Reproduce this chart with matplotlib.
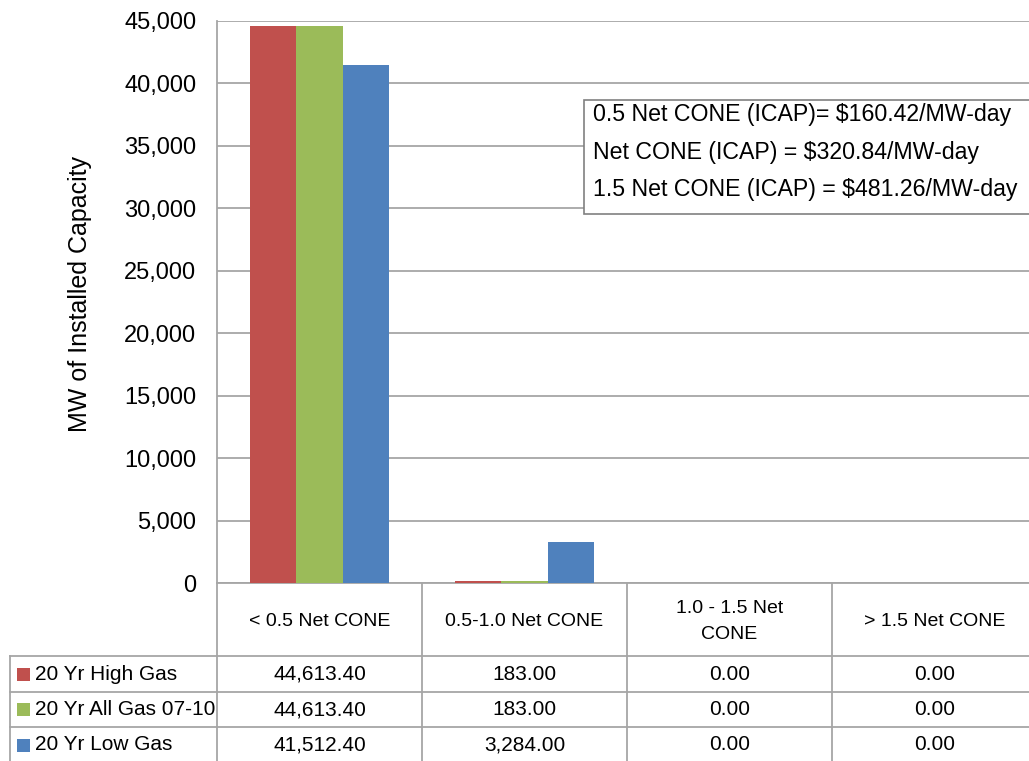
import matplotlib
matplotlib.use("Agg")
import matplotlib.pyplot as plt
from matplotlib.transforms import blended_transform_factory
from matplotlib.ticker import FuncFormatter, MultipleLocator
import numpy as np

plt.rcParams["font.family"] = ["Liberation Sans", "DejaVu Sans"]

categories = ["< 0.5 Net CONE", "0.5-1.0 Net CONE", "1.0 - 1.5 Net\nCONE", "> 1.5 Net CONE"]
series_names = ["20 Yr High Gas", "20 Yr All Gas 07-10", "20 Yr Low Gas"]
high_gas = [44613.40, 183.00, 0.00, 0.00]
all_gas = [44613.40, 183.00, 0.00, 0.00]
low_gas = [41512.40, 3284.00, 0.00, 0.00]
colors = ["#C0504D", "#9BBB59", "#4F81BD"]
note_lines = ["0.5 Net CONE (ICAP)= $160.42/MW-day",
              "Net CONE (ICAP) = $320.84/MW-day",
              "1.5 Net CONE (ICAP) = $481.26/MW-day"]

W, H = 1029, 761
fig = plt.figure(figsize=(W / 100, H / 100), dpi=100)
ax_l, ax_r, ax_t, ax_b = 217, 1037, 21, 583
ax = fig.add_axes([ax_l / W, 1 - ax_b / H, (ax_r - ax_l) / W, (ax_b - ax_t) / H])

grid_c = "#A6A6A6"
fs_tick = 17
fs_tab = 15

x = np.arange(len(categories))
bw = 0.225
for i, (vals, c) in enumerate(zip([high_gas, all_gas, low_gas], colors)):
    ax.bar(x + (i - 1) * bw, vals, width=bw, color=c, zorder=3)

ax.set_xlim(-0.5, len(categories) - 0.5)
ax.set_ylim(0, 45000)
ax.yaxis.set_major_locator(MultipleLocator(5000))
ax.yaxis.set_major_formatter(FuncFormatter(lambda v, p: f"{v:,.0f}"))
ax.grid(axis="y", color=grid_c, linewidth=1.3, zorder=0)
ax.set_xticks([])
ax.tick_params(axis="y", length=0, pad=15, labelsize=fs_tick)
for s in ["top", "right"]:
    ax.spines[s].set_visible(False)
for s in ["left", "bottom"]:
    ax.spines[s].set_color(grid_c)
    ax.spines[s].set_linewidth(1.3)

def fy(py):
    return 1 - py / H

fig.text(80 / W, fy(294), "MW of Installed Capacity", rotation=90,
         ha="center", va="center", fontsize=18)

# note box
fig.add_artist(plt.Rectangle((584 / W, fy(214)), (1045 - 584) / W, 114 / H,
                             transform=fig.transFigure, facecolor="white",
                             edgecolor="#808080", linewidth=1.2, zorder=5))
fig.text(593 / W, fy(152), "\n".join(note_lines), fontsize=16.7,
         ha="left", va="center", linespacing=1.8, zorder=6)

# data table
tr = blended_transform_factory(ax.transData, fig.transFigure)
row_lines = [583, 656, 692, 727, 763]
line_kw = dict(color=grid_c, linewidth=1.3, clip_on=False)
for b in [-0.5, 0.5, 1.5, 2.5, 3.5]:
    fig.add_artist(plt.Line2D([b, b], [fy(583), fy(763)], transform=tr, **line_kw))
fig.add_artist(plt.Line2D([10 / W, 10 / W], [fy(656), fy(763)], transform=fig.transFigure, **line_kw))
for ry in row_lines[1:]:
    fig.add_artist(plt.Line2D([10 / W, 1.02], [fy(ry), fy(ry)], transform=fig.transFigure, **line_kw))

for i, cat in enumerate(categories):
    fig.text(x[i], fy((583 + 656) / 2 + 2), cat, transform=tr, ha="center", va="center",
             fontsize=fs_tab - 1, linespacing=1.7)

for r, (name, vals, c) in enumerate(zip(series_names, [high_gas, all_gas, low_gas], colors)):
    cy = (row_lines[r + 1] + row_lines[r + 2]) / 2
    fig.add_artist(plt.Rectangle((17 / W, fy(cy + 6.5)), 13 / W, 13 / H, transform=fig.transFigure,
                                 facecolor=c, edgecolor="none"))
    fig.text(35 / W, fy(cy), name, ha="left", va="center", fontsize=fs_tab)
    for i, v in enumerate(vals):
        fig.text(x[i], fy(cy), f"{v:,.2f}", transform=tr, ha="center", va="center", fontsize=fs_tab)

fig.savefig("out.png", dpi=100)
